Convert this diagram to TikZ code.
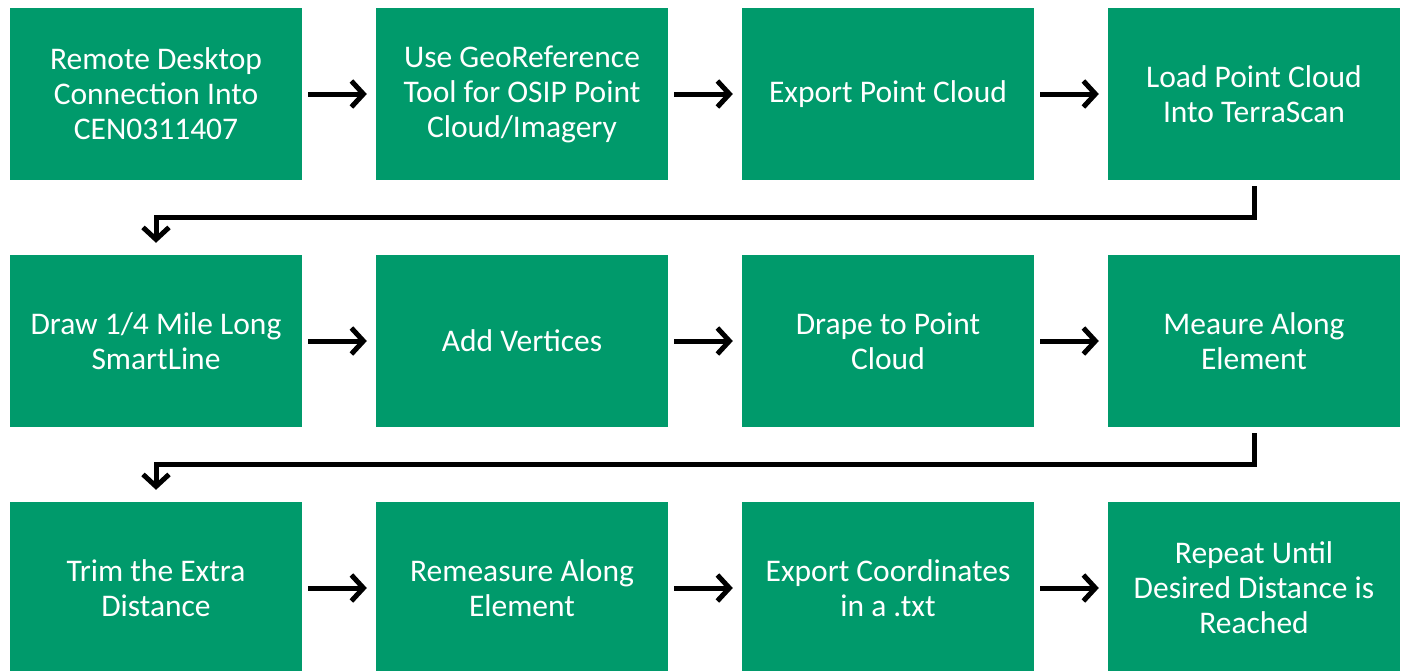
\documentclass[tikz,border=0pt]{standalone}
\usepackage{fontspec}
\setmainfont{Carlito}
\usetikzlibrary{arrows.meta}
\definecolor{boxgreen}{RGB}{0,154,107}
\begin{document}
\begin{tikzpicture}[x=1pt,y=-1pt,
  stepbox/.style={fill=boxgreen,draw=none,minimum width=292pt,minimum height=172pt,
    text=white,align=center,inner sep=0pt,font=\fontsize{31.5}{35}\selectfont},
  flow/.style={line width=5pt,-{Straight Barb[length=12pt,width=26pt,line width=5pt]}},
  elbow/.style={line width=5pt,-{Straight Barb[length=12pt,width=26pt,line width=5pt]}}]
\useasboundingbox (0,0) rectangle (1403,670);
\begin{scope}
\clip (0,0) rectangle (1403,670);
% row 1
\node[stepbox] (a1) at (156,94) {Remote Desktop\\Connection Into\\CEN0311407};
\node[stepbox] (a2) at (522,94) {Use GeoReference\\Tool for OSIP Point\\Cloud/Imagery};
\node[stepbox] (a3) at (888,94) {Export Point Cloud};
\node[stepbox] (a4) at (1254,94) {Load Point Cloud\\Into TerraScan};
% row 2
\node[stepbox] (b1) at (156,341) {Draw 1/4 Mile Long\\SmartLine};
\node[stepbox] (b2) at (522,341) {Add Vertices};
\node[stepbox] (b3) at (888,341) {Drape to Point\\Cloud};
\node[stepbox] (b4) at (1254,341) {Meaure Along\\Element};
% row 3
\node[stepbox] (c1) at (156,588) {Trim the Extra\\Distance};
\node[stepbox] (c2) at (522,588) {Remeasure Along\\Element};
\node[stepbox] (c3) at (888,588) {Export Coordinates\\in a .txt};
\node[stepbox] (c4) at (1254,588) {Repeat Until\\Desired Distance is\\Reached};
\end{scope}
% horizontal arrows
\foreach \r in {a,b,c}{
  \draw[flow] ([xshift=6pt]\r1.east) -- ([xshift=-9pt]\r2.west);
  \draw[flow] ([xshift=6pt]\r2.east) -- ([xshift=-9pt]\r3.west);
  \draw[flow] ([xshift=6pt]\r3.east) -- ([xshift=-9pt]\r4.west);
}
% bent connectors
\coordinate (t1) at (1254,217);
\coordinate (t2) at (156,217);
\draw[elbow] ([yshift=-6pt]a4.south) -- (t1) -- (t2) -- ([yshift=12pt]b1.north);
\coordinate (u1) at (1254,464);
\coordinate (u2) at (156,464);
\draw[elbow] ([yshift=-6pt]b4.south) -- (u1) -- (u2) -- ([yshift=12pt]c1.north);
\end{tikzpicture}
\end{document}
